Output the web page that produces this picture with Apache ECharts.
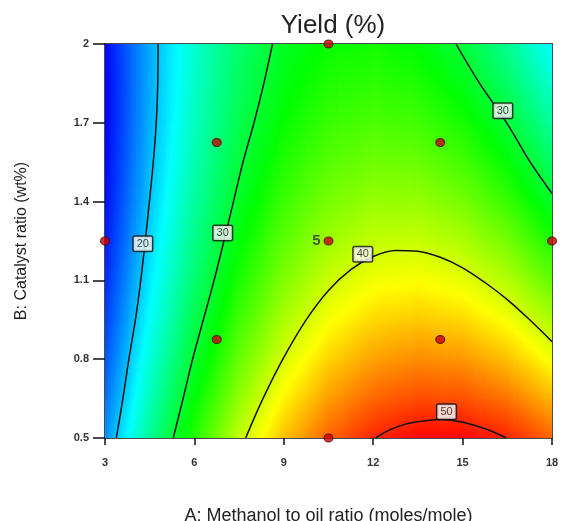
<!DOCTYPE html>
<html><head><meta charset="utf-8">
<script src="https://cdn.jsdelivr.net/npm/echarts@6/dist/echarts.min.js"></script>
<style>html,body{margin:0;padding:0;background:#fff}#c{width:561px;height:521px}</style>
</head><body><div id="c"></div>
<script>
// Grid of yield values (%)
const aValues = [3, 4.5, 6, 7.5, 9, 10.5, 12, 13.5, 15, 16.5, 18];
const bValues = [0.5, 0.65, 0.8, 0.95, 1.1, 1.25, 1.4, 1.55, 1.7, 1.85, 2.0];
// one row per B value (bottom to top), one column per A value
const yieldRows = [
  [17.99, 26.26, 33.36, 39.27, 44.00, 47.56, 49.94, 51.13, 51.15, 49.99, 47.65],
  [16.77, 24.84, 31.73, 37.44, 41.97, 45.33, 47.50, 48.49, 48.31, 46.95, 44.40],
  [15.70, 23.57, 30.26, 35.76, 40.09, 43.24, 45.21, 46.01, 45.62, 44.06, 41.31],
  [14.79, 22.45, 28.94, 34.24, 38.37, 41.32, 43.09, 43.68, 43.09, 41.32, 38.37],
  [14.03, 21.49, 27.77, 32.88, 36.80, 39.55, 41.11, 41.50, 40.71, 38.74, 35.59],
  [13.43, 20.69, 26.77, 31.67, 35.39, 37.93, 39.29, 39.48, 38.48, 36.31, 32.96],
  [12.98, 20.04, 25.92, 30.61, 34.13, 36.47, 37.63, 37.61, 36.42, 34.04, 30.48],
  [12.69, 19.55, 25.22, 29.71, 33.03, 35.17, 36.12, 35.90, 34.50, 31.92, 28.16],
  [12.56, 19.21, 24.68, 28.97, 32.08, 34.02, 34.77, 34.35, 32.74, 29.96, 26.00],
  [12.57, 19.02, 24.29, 28.38, 31.29, 33.02, 33.57, 32.95, 31.14, 28.15, 23.99],
  [12.75, 18.99, 24.06, 27.94, 30.65, 32.18, 32.53, 31.70, 29.69, 26.50, 22.14]
];
// contour lines [A, B]
const contour20 = [[4.78,2.0],[4.77,1.85],[4.72,1.7],[4.62,1.55],[4.49,1.4],[4.35,1.25],[4.2,1.1],[4.02,0.95],[3.8,0.8],[3.6,0.65],[3.38,0.5]];
const contour30Left = [[8.62,2.0],[8.33,1.85],[8.0,1.7],[7.63,1.55],[7.31,1.4],[6.99,1.25],[6.66,1.1],[6.3,0.95],[5.94,0.8],[5.62,0.65],[5.29,0.5]];
const contour30Right = [[14.78,2.0],[15.57,1.85],[16.48,1.7],[17.27,1.55],[18,1.431]];
const contour40 = [[7.72,0.5],[8.3,0.65],[9,0.807],[9.75,0.95],[10.5,1.062],[11.25,1.141],[12,1.191],[12.75,1.214],[13.5,1.211],[14.25,1.188],[15,1.148],[15.75,1.092],[16.5,1.027],[17.25,0.95],[18,0.867]];
const contour50 = [[12.08,0.5],[12.5,0.528],[13,0.55],[13.5,0.562],[14.27,0.57],[15,0.56],[15.5,0.545],[16,0.525],[16.47,0.5]];
const contourLabels = [[4.27,1.24,'20'],[6.95,1.28,'30'],[16.35,1.746,'30'],[11.65,1.2,'40'],[14.46,0.6,'50']];
// design points
const designPoints = [[3,1.25],[10.5,2],[10.5,1.25],[10.5,0.5],[18,1.25],[6.75,1.625],[6.75,0.875],[14.25,1.625],[14.25,0.875]];
const centerReplicates = '5';
const xTicks = {min: 3, max: 18, step: 3};
const yTicks = {min: 0.5, max: 2, step: 0.3};
const colorScale = {min: 12.5, max: 51.3, colors: ['#0000ff', '#00ffff', '#00ff00', '#ffff00', '#ff0000']};

function hexToRgb(h){return [parseInt(h.slice(1,3),16),parseInt(h.slice(3,5),16),parseInt(h.slice(5,7),16)];}
const stopRgb = colorScale.colors.map(hexToRgb);
function colorOf(v){
  let t = (v - colorScale.min) / (colorScale.max - colorScale.min);
  t = Math.max(0, Math.min(1, t));
  const n = stopRgb.length - 1;
  const k = Math.min(n - 1, Math.floor(t * n));
  const f = t * n - k;
  const a = stopRgb[k], b = stopRgb[k + 1];
  return 'rgb(' + Math.round(a[0]+(b[0]-a[0])*f) + ',' + Math.round(a[1]+(b[1]-a[1])*f) + ',' + Math.round(a[2]+(b[2]-a[2])*f) + ')';
}

const cells = [];
for (let j = 0; j < bValues.length - 1; j++) {
  for (let i = 0; i < aValues.length - 1; i++) {
    cells.push([aValues[i], bValues[j], aValues[i+1], bValues[j+1],
      yieldRows[j][i], yieldRows[j][i+1], yieldRows[j+1][i], yieldRows[j+1][i+1]]);
  }
}

function renderCell(params, api){
  const a0 = api.value(0), b0 = api.value(1), a1 = api.value(2), b1 = api.value(3);
  const z00 = api.value(4), z10 = api.value(5), z01 = api.value(6), z11 = api.value(7);
  const tl = api.coord([a0, b1]);
  const br = api.coord([a1, b0]);
  const w = br[0] - tl[0], h = br[1] - tl[1];
  const N = Math.max(1, Math.ceil(w / 2));
  const children = [];
  for (let k = 0; k < N; k++) {
    const s = (k + 0.5) / N;
    const zb = z00 + (z10 - z00) * s;
    const zt = z01 + (z11 - z01) * s;
    const stops = [];
    const M = 6;
    for (let m = 0; m <= M; m++) {
      const f = m / M;
      stops.push({offset: f, color: colorOf(zt + (zb - zt) * f)});
    }
    children.push({type: 'rect', silent: true,
      shape: {x: tl[0] + k * w / N, y: tl[1], width: w / N + 0.7, height: h + 0.7},
      style: {fill: {type: 'linear', x: 0, y: 0, x2: 0, y2: 1, colorStops: stops}}});
  }
  return {type: 'group', children: children};
}

const lineStyle = {color: '#111', width: 1.5};
function contourSeries(data){
  return {type: 'line', data: data, smooth: 0.35, symbol: 'none', lineStyle: lineStyle, z: 3, silent: true, clip: true};
}

const FONT = 'Liberation Sans, Arial, sans-serif';
const chart = echarts.init(document.getElementById('c'), null, {renderer: 'canvas'});
chart.setOption({
  animation: false,
  backgroundColor: '#fff',
  title: {text: 'Yield (%)', left: 328, top: 8, textAlign: 'center',
    textStyle: {fontSize: 26, fontWeight: 'normal', color: '#222', fontFamily: FONT}},
  grid: {left: 105, right: 9, top: 44, bottom: 83, containLabel: false, outerBoundsMode: 'none'},
  xAxis: [{
    type: 'value', min: xTicks.min, max: xTicks.max, interval: xTicks.step,
    axisLine: {show: true, onZero: false, lineStyle: {color: '#111', width: 1.5}},
    axisTick: {show: true, length: 7, lineStyle: {color: '#111', width: 1.5}},
    axisLabel: {fontSize: 11, color: '#333', margin: 19, fontFamily: FONT, fontWeight: 'bold'},
    splitLine: {show: false},
    name: 'A: Methanol to oil ratio (moles/mole)', nameLocation: 'middle', nameGap: 69,
    nameTextStyle: {fontSize: 18, color: '#222', fontFamily: FONT}
  }, {
    type: 'value', position: 'top', min: xTicks.min, max: xTicks.max,
    axisLine: {show: true, onZero: false, lineStyle: {color: '#111', width: 1.5}},
    axisTick: {show: false}, axisLabel: {show: false}, splitLine: {show: false}
  }],
  yAxis: [{
    type: 'value', min: yTicks.min, max: yTicks.max, interval: yTicks.step,
    axisLine: {show: true, onZero: false, lineStyle: {color: '#111', width: 1.5}},
    axisTick: {show: true, length: 12, lineStyle: {color: '#111', width: 1.5}},
    axisLabel: {fontSize: 11, color: '#333', margin: 16, fontFamily: FONT, fontWeight: 'bold',
      formatter: v => String(+v.toFixed(1))},
    splitLine: {show: false},
    name: 'B: Catalyst ratio (wt%)', nameLocation: 'middle', nameGap: 75, nameRotate: 90,
    nameTextStyle: {fontSize: 16, color: '#222', fontFamily: FONT}
  }, {
    type: 'value', position: 'right', min: yTicks.min, max: yTicks.max,
    axisLine: {show: true, onZero: false, lineStyle: {color: '#111', width: 1.5}},
    axisTick: {show: false}, axisLabel: {show: false}, splitLine: {show: false}
  }],
  series: [
    {type: 'custom', data: cells, renderItem: renderCell, z: 1, silent: true, clip: true,
      encode: {x: [0, 2], y: [1, 3]}},
    contourSeries(contour20),
    contourSeries(contour30Left),
    contourSeries(contour30Right),
    contourSeries(contour40),
    contourSeries(contour50),
    {type: 'scatter', data: contourLabels, symbolSize: 0, z: 5, silent: true,
      label: {show: true, position: 'inside', formatter: p => p.value[2],
        fontSize: 11, color: '#111', fontFamily: FONT, backgroundColor: '#fff',
        borderColor: '#111', borderWidth: 1.5, borderRadius: 1, padding: [2, 3, 1, 3]}},
    {type: 'scatter', data: designPoints, symbol: 'circle', symbolSize: [9, 8], z: 6, clip: false,
      itemStyle: {color: '#c80000', borderColor: '#4a0000', borderWidth: 1},
      label: {show: true, position: 'left', distance: 3,
        formatter: p => (p.value[0] === 10.5 && p.value[1] === 1.25) ? centerReplicates : '',
        fontSize: 15, fontWeight: 'bold', color: '#333', fontFamily: FONT}}
  ]
});
</script>
</body></html>
